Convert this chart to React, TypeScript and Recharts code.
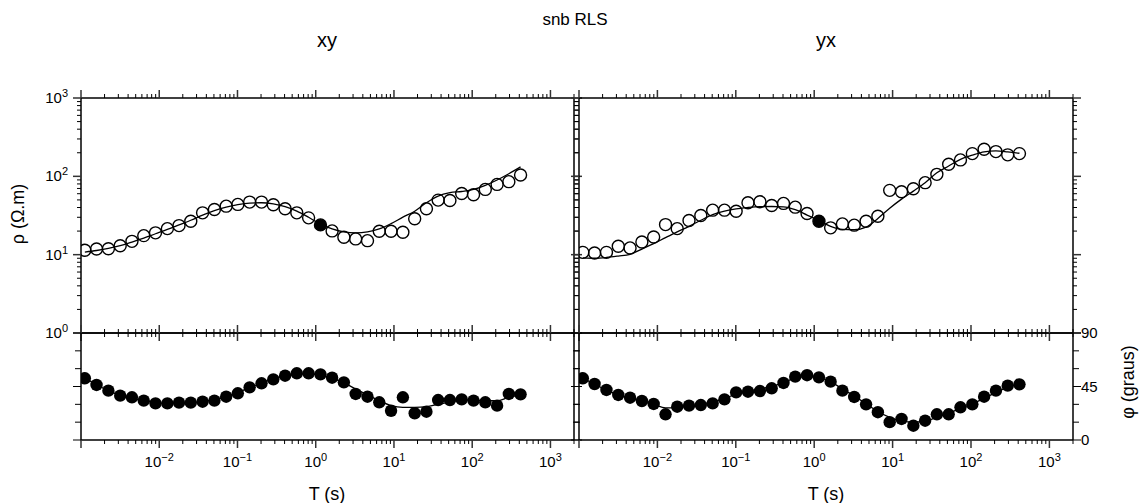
import React from 'react';
import { ComposedChart, Line, Scatter, XAxis, YAxis } from 'recharts';

const FONT = '"Liberation Sans", Arial, Helvetica, sans-serif';
const W = 1140;
const H = 503;

// periods (s)
const PERIODS = [
  0.00112, 0.00158, 0.00224, 0.00317, 0.00448, 0.00634, 0.00896, 0.0127, 0.0179, 0.0253,
  0.0358, 0.0507, 0.0717, 0.101, 0.143, 0.203, 0.287, 0.406, 0.573, 0.811,
  1.15, 1.62, 2.29, 3.24, 4.59, 6.49, 9.18, 13.0, 18.4, 26.0,
  36.7, 51.9, 73.4, 104, 147, 208, 294, 415,
];
const SOLID_INDEX = 20;

// apparent resistivity (ohm.m)
const XY_RHO = [
  11.4, 11.8, 11.9, 13.0, 14.8, 17.5, 19.0, 21.5, 23.5, 26.7,
  34.2, 37.8, 41.6, 43.8, 46.9, 46.9, 43.4, 38.5, 34.2, 29.5,
  24.0, 20.1, 16.7, 15.9, 15.1, 19.9, 19.9, 19.3, 28.7, 38.5,
  49.7, 49.2, 60.5, 58.2, 68.1, 78.9, 85.5, 104,
];
const XY_RHO_MODEL = [
  10.8, 11.3, 12.0, 13.0, 14.5, 16.3, 18.5, 21.0, 24.0, 27.5,
  32.0, 36.5, 40.5, 43.5, 45.5, 46.0, 44.5, 41.0, 36.0, 30.0,
  24.5, 21.3, 19.5, 19.0, 19.5, 21.3, 24.9, 30.1, 35.9, 46.0,
  56.0, 61.8, 64.0, 68.0, 76.7, 89.8, 108, 132,
];
const YX_RHO = [
  10.7, 10.5, 10.7, 12.8, 12.2, 14.5, 16.8, 24.2, 21.5, 27.3,
  31.6, 37.0, 37.0, 35.9, 46.0, 47.3, 42.5, 45.1, 40.4, 33.6,
  26.7, 22.0, 24.7, 23.8, 26.7, 31.0, 66.2, 63.6, 69.5, 83.0,
  106, 142.5, 162, 195, 222, 207, 188, 195,
];
const YX_RHO_MODEL = [
  9.1, 9.0, 9.2, 9.6, 10.1, 11.8, 13.8, 16.5, 19.5, 23.0,
  27.5, 32.5, 36.0, 38.5, 40.0, 41.0, 41.2, 40.8, 37.5, 32.0,
  27.3, 23.0, 21.0, 20.8, 22.5, 29.0, 39.2, 51.2, 64.8, 83.0,
  111, 135.5, 165, 186, 205, 211, 205, 197,
];

// phase (degrees)
const XY_PHASE = [
  51.9, 46.3, 41.5, 37.3, 35.9, 33.1, 30.8, 30.8, 31.4, 31.4,
  32.2, 33.1, 36.4, 39.3, 44.3, 47.7, 51.0, 54.1, 56.1, 56.1,
  55.2, 52.4, 48.5, 38.7, 36.4, 31.7, 24.6, 35.9, 22.5, 23.8,
  33.6, 33.6, 34.2, 33.1, 31.7, 28.9, 38.7, 38.4,
];
const XY_PHASE_MODEL = [
  52, 46.5, 41.5, 37.5, 35, 33, 31.5, 31, 31, 31.5,
  32.5, 34, 36.5, 40, 44, 48, 51.5, 54, 55.5, 55.5,
  54.5, 52, 48, 43, 38, 33, 29, 27.5, 27.5, 28,
  30, 32, 33.5, 33.5, 33, 33, 36, 38,
];
const YX_PHASE = [
  51.9, 47.1, 42.1, 37.9, 35.6, 32.8, 30.3, 21.6, 28.0, 28.9,
  29.4, 30.8, 34.2, 40.1, 40.6, 41.2, 43.5, 48.0, 53.3, 54.5,
  52.7, 49.1, 41.5, 36.2, 30.0, 23.4, 15.0, 17.7, 12.0, 16.2,
  21.6, 21.6, 27.5, 30.0, 36.4, 41.5, 45.7, 46.8,
];
const YX_PHASE_MODEL = [
  52, 47, 42, 38, 35, 32.5, 30, 27, 27.5, 28.5,
  30, 32, 35, 38.5, 41, 43, 45, 48.5, 52, 53.5,
  52.5, 49, 43, 37, 30.5, 24, 19, 16, 15, 16,
  19, 22.5, 26.5, 30.5, 35, 40, 44.5, 47,
];

// axes
const X_DOMAIN = [0.001, 2000];
const X_DECADES = [0.001, 0.01, 0.1, 1, 10, 100, 1000];
const RHO_DOMAIN = [1, 1000];
const RHO_DECADES = [1, 10, 100, 1000];
const MINOR_MULT = [2, 3, 4, 5, 6, 7, 8, 9];
const PHASE_DOMAIN = [0, 90];
const PHASE_TICKS = [0, 15, 30, 45, 60, 75, 90];
const PHASE_LABELS = [0, 45, 90];

const logTicks = (decades: number[], max: number) =>
  decades.flatMap((d) => [d, ...MINOR_MULT.map((m) => +(m * d).toPrecision(6))]).filter((v) => v <= max);

const X_TICKS = logTicks(X_DECADES, X_DOMAIN[1]);
const RHO_TICKS = logTicks(RHO_DECADES, RHO_DOMAIN[1]);

const MAJOR_LEN = 8;
const MINOR_LEN = 4;
const LABEL_SIZE = 15;
const SUP_SIZE = 11;

const expText = (v: number) => {
  const e = Math.round(Math.log10(v));
  return e < 0 ? `\u2212${-e}` : `${e}`;
};

const xTick = (side: 'top' | 'bottom', labels: boolean) => (props: any) => {
  const { x, y, payload } = props;
  const v = payload.value;
  const major = X_DECADES.includes(v);
  const dir = side === 'top' ? -1 : 1;
  return (
    <g>
      <line x1={x} x2={x} y1={y} y2={y + dir * (major ? MAJOR_LEN : MINOR_LEN)} stroke={major ? '#333' : '#000'} strokeWidth={major ? 1.5 : 1} />
      {labels && major && v > X_DOMAIN[0] && (
        <text x={x} y={y + 27} textAnchor="middle" fontSize={LABEL_SIZE} fontFamily={FONT} fill="#000">
          10<tspan dy={-6} fontSize={SUP_SIZE}>{expText(v)}</tspan>
        </text>
      )}
    </g>
  );
};

const rhoTick = (side: 'left' | 'right', labels: boolean) => (props: any) => {
  const { x, y, payload } = props;
  const v = payload.value;
  const major = RHO_DECADES.includes(v);
  const dir = side === 'left' ? -1 : 1;
  return (
    <g>
      <line x1={x} x2={x + dir * (major ? MAJOR_LEN : MINOR_LEN)} y1={y} y2={y} stroke={major ? '#333' : '#000'} strokeWidth={major ? 1.5 : 1} />
      {labels && major && (
        <text x={x - 13} y={y + 5} textAnchor="end" fontSize={LABEL_SIZE} fontFamily={FONT} fill="#000">
          10<tspan dy={-6} fontSize={SUP_SIZE}>{expText(v)}</tspan>
        </text>
      )}
    </g>
  );
};

const phaseTick = (side: 'left' | 'right', labels: boolean) => (props: any) => {
  const { x, y, payload } = props;
  const v = payload.value;
  const major = PHASE_LABELS.includes(v);
  const dir = side === 'left' ? -1 : 1;
  return (
    <g>
      <line x1={x} x2={x + dir * (major ? MAJOR_LEN : MINOR_LEN + 2)} y1={y} y2={y} stroke="#000" strokeWidth={1} />
      {labels && major && (
        <text x={x + 8} y={y + 5} textAnchor="start" fontSize={LABEL_SIZE} fontFamily={FONT} fill="#000">
          {v}
        </text>
      )}
    </g>
  );
};

const SOLID_T = PERIODS[SOLID_INDEX];

const openCircle = (p: any) => {
  if (!Number.isFinite(p.cx) || !Number.isFinite(p.cy)) return <g />;
  const t = (p.payload ?? p).T;
  const solid = t === SOLID_T;
  return <circle cx={p.cx} cy={p.cy} r={6} fill={solid ? '#000' : 'none'} stroke="#000" strokeWidth={1.4} />;
};

const solidCircle = (p: any) => {
  if (!Number.isFinite(p.cx) || !Number.isFinite(p.cy)) return <g />;
  return <circle cx={p.cx} cy={p.cy} r={6.2} fill="#000" stroke="none" />;
};

const axisLine = { stroke: '#000', strokeWidth: 1.5 };

interface PanelProps {
  x0: number;
  x1: number;
  y0: number;
  y1: number;
  obs: number[];
  model: number[];
  kind: 'rho' | 'phase';
  leftLabels?: boolean;
  rightLabels?: boolean;
  bottomLabels?: boolean;
}

// axes are 1px thick boxes so recharts draws them; margins compensate
function Panel({ x0, x1, y0, y1, obs, model, kind, leftLabels = false, rightLabels = false, bottomLabels = false }: PanelProps) {
  const rows = PERIODS.map((T, i) => ({ T, obs: obs[i], model: model[i] }));
  const isRho = kind === 'rho';
  const yCommon = isRho
    ? { type: 'number' as const, scale: 'log' as const, domain: RHO_DOMAIN, ticks: RHO_TICKS }
    : { type: 'number' as const, domain: PHASE_DOMAIN, ticks: PHASE_TICKS };
  const yTick = isRho ? rhoTick : phaseTick;
  return (
    <div style={{ position: 'absolute', left: 0, top: 0 }}>
      <ComposedChart
        width={W}
        height={H}
        data={rows}
        margin={{ top: y0 - 1, left: x0 - 1, right: W - x1 - 1, bottom: H - y1 - 1 }}
      >
        <XAxis
          xAxisId="b"
          dataKey="T"
          type="number"
          scale="log"
          domain={X_DOMAIN}
          allowDataOverflow
          ticks={X_TICKS}
          interval={0}
          orientation="bottom"
          height={1}
          tickSize={0}
          tickMargin={0}
          tickLine={false}
          axisLine={axisLine}
          tick={xTick('bottom', bottomLabels)}
        />
        <XAxis
          xAxisId="t"
          dataKey="T"
          type="number"
          scale="log"
          domain={X_DOMAIN}
          allowDataOverflow
          ticks={X_TICKS}
          interval={0}
          orientation="top"
          height={1}
          tickSize={0}
          tickMargin={0}
          tickLine={false}
          axisLine={axisLine}
          tick={xTick('top', false)}
        />
        <YAxis
          yAxisId="l"
          {...yCommon}
          allowDataOverflow
          interval={0}
          orientation="left"
          width={1}
          tickSize={0}
          tickMargin={0}
          tickLine={false}
          axisLine={axisLine}
          tick={yTick('left', leftLabels)}
        />
        <YAxis
          yAxisId="r"
          {...yCommon}
          allowDataOverflow
          interval={0}
          orientation="right"
          width={1}
          tickSize={0}
          tickMargin={0}
          tickLine={false}
          axisLine={axisLine}
          tick={yTick('right', rightLabels)}
        />
        <Line
          xAxisId="b"
          yAxisId="l"
          dataKey="model"
          type="monotone"
          stroke="#000"
          strokeWidth={1.3}
          dot={false}
          isAnimationActive={false}
        />
        <Scatter
          xAxisId="b"
          yAxisId="l"
          dataKey="obs"
          shape={isRho ? openCircle : solidCircle}
          isAnimationActive={false}
        />
      </ComposedChart>
    </div>
  );
}

export default function App() {
  const txt = { fontFamily: FONT, fill: '#000' };
  return (
    <div style={{ position: 'absolute', left: 0, top: 0, width: W, height: H, background: '#fff' }}>
      <Panel x0={81} x1={574} y0={98} y1={333} obs={XY_RHO} model={XY_RHO_MODEL} kind="rho" leftLabels />
      <Panel x0={579} x1={1073} y0={98} y1={333} obs={YX_RHO} model={YX_RHO_MODEL} kind="rho" />
      <Panel x0={81} x1={574} y0={333} y1={440} obs={XY_PHASE} model={XY_PHASE_MODEL} kind="phase" bottomLabels />
      <Panel x0={579} x1={1073} y0={333} y1={440} obs={YX_PHASE} model={YX_PHASE_MODEL} kind="phase" bottomLabels rightLabels />
      <svg width={W} height={H} style={{ position: 'absolute', left: 0, top: 0, pointerEvents: 'none' }}>
        <text x={575} y={25} textAnchor="middle" fontSize={17} {...txt}>snb RLS</text>
        <text x={327} y={47} textAnchor="middle" fontSize={20} {...txt}>xy</text>
        <text x={826} y={47} textAnchor="middle" fontSize={20} {...txt}>yx</text>
        <text x={327} y={500} textAnchor="middle" fontSize={18} {...txt}>T (s)</text>
        <text x={826} y={500} textAnchor="middle" fontSize={18} {...txt}>T (s)</text>
        <text transform="translate(24,214) rotate(-90)" textAnchor="middle" fontSize={18} {...txt}>ρ (Ω.m)</text>
        <text transform="translate(1134,382) rotate(-90)" textAnchor="middle" fontSize={18} {...txt}>φ (graus)</text>
      </svg>
    </div>
  );
}
